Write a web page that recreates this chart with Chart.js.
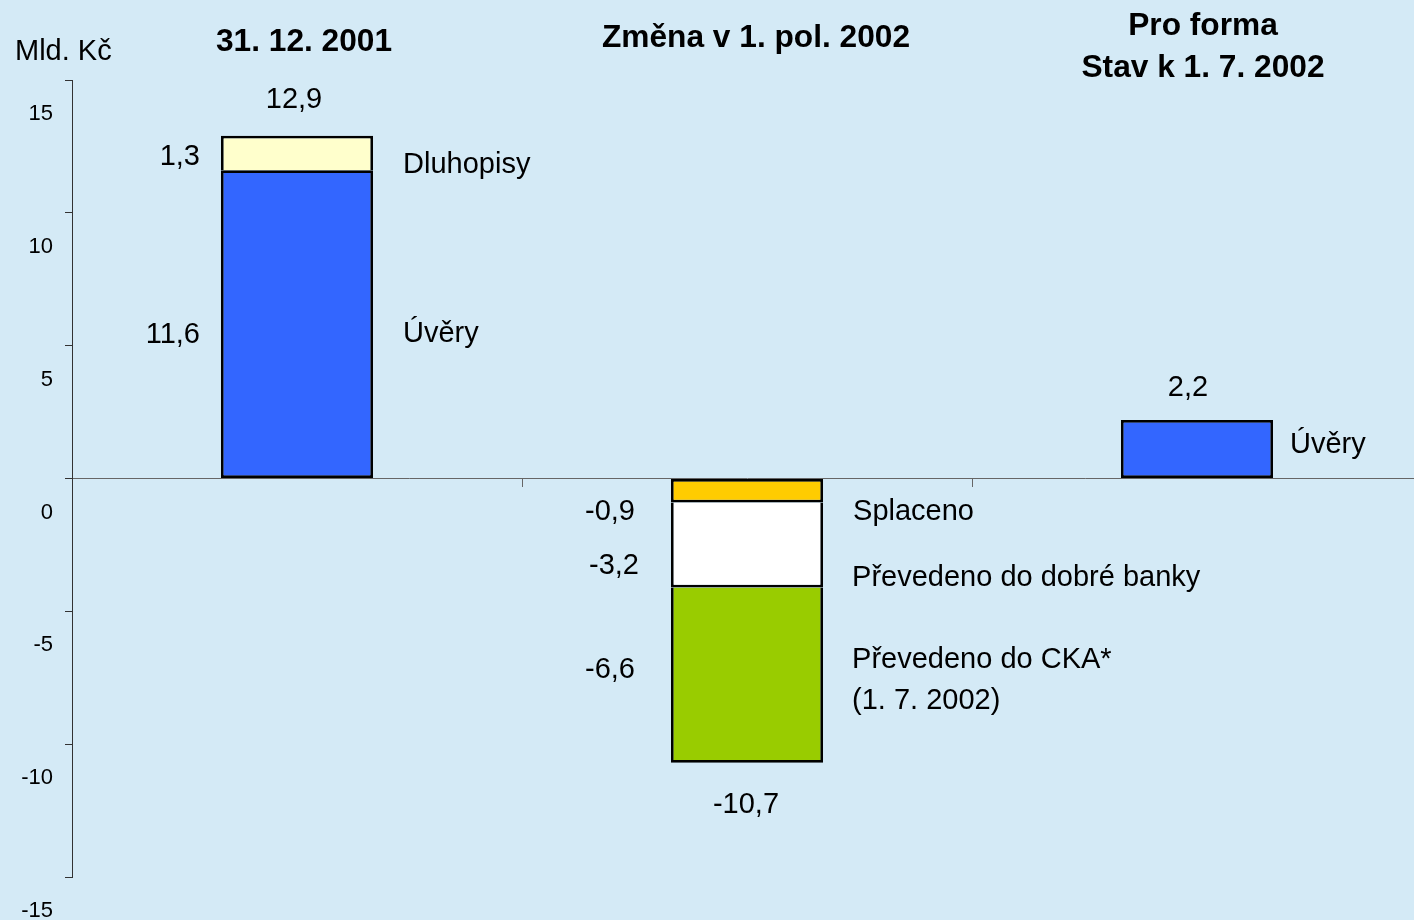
<!DOCTYPE html>
<html>
<head>
<meta charset="utf-8">
<script src="https://cdn.jsdelivr.net/npm/chart.js@4"></script>
<style>
  html, body { margin: 0; padding: 0; overflow: hidden; background: #d4eaf6; }
  #chart { display: block; }
</style>
</head>
<body>
<canvas id="chart" width="1422" height="920"></canvas>
<script>
// Column headings and stacked segments, Mld. Kč
var categories = [["31. 12. 2001"], ["Změna v 1. pol. 2002"], ["Pro forma", "Stav k 1. 7. 2002"]];
var uvery      = [11.6, null, 2.2];
var dluhopisy  = [1.3, null, null];
var splaceno   = [null, -0.9, null];
var dobraBanka = [null, -3.2, null];
var cka        = [null, -6.6, null];
var segmentNames = ["Úvěry", "Dluhopisy", "Splaceno", "Převedeno do dobré banky", ["Převedeno do CKA*", "(1. 7. 2002)"]];
var yMin = -15, yMax = 15, yStep = 5;
var unitLabel = "Mld. Kč";

var FONT = '"Liberation Sans", Arial, sans-serif';
Chart.defaults.font.family = FONT;

// text placement in pixels, relative to the bar segment ("dataset-category")
var valueOffset = { "0-0": [-21, 19], "1-0": [-21, 12], "2-1": [-36, 29], "3-1": [-32, 29], "4-1": [-36, 3] };
var nameOffset  = { "0-0": [30, 18], "0-2": [17, 4], "1-0": [30, 20], "2-1": [30, 29], "3-1": [29, 41], "4-1": [29, -7] };
var totalOffset = [[-3, -28], [-1, 50], [-9, -24]];
var headingOffset = [[7, 51], [9, 47], [6, 35]];

var EDGE = 2.75;

function fmt(v) {
  return v.toFixed(1).replace(".", ",");
}

// every segment draws its outward edge; the edge towards zero only if nothing sits there,
// so the line between two segments is a single stroke
function segmentBorder(ctx) {
  var all = ctx.chart.data.datasets, i = ctx.dataIndex, d = ctx.datasetIndex;
  var v = all[d].data[i];
  if (v == null) return EDGE;
  var below = false;
  for (var k = 0; k < d; k++) {
    var w = all[k].data[i];
    if (w != null && (w > 0) === (v > 0)) below = true;
  }
  var inner = below ? 0 : EDGE;
  return v > 0 ? { top: EDGE, bottom: inner, left: EDGE, right: EDGE }
               : { top: inner, bottom: EDGE, left: EDGE, right: EDGE };
}

var labelPlugin = {
  id: "segmentLabels",
  afterDatasetsDraw: function (chart) {
    var ctx = chart.ctx, xs = chart.scales.x, ys = chart.scales.y;
    ctx.save();
    ctx.fillStyle = "#000";
    ctx.textBaseline = "alphabetic";
    ctx.font = "29px " + FONT;

    chart.data.datasets.forEach(function (ds, d) {
      var meta = chart.getDatasetMeta(d);
      ds.data.forEach(function (v, i) {
        if (v == null) return;
        var p = meta.data[i].getProps(["x", "y", "base", "width"], true);
        var mid = (p.y + p.base) / 2;
        var key = d + "-" + i;
        if (valueOffset[key]) {
          ctx.textAlign = "right";
          ctx.fillText(fmt(v), p.x - p.width / 2 + valueOffset[key][0], mid + valueOffset[key][1]);
        }
        if (nameOffset[key]) {
          ctx.textAlign = "left";
          [].concat(segmentNames[d]).forEach(function (line, n) {
            ctx.fillText(line, p.x + p.width / 2 + nameOffset[key][0], mid + nameOffset[key][1] + n * 41);
          });
        }
      });
    });

    // stack totals
    categories.forEach(function (c, i) {
      var total = 0;
      chart.data.datasets.forEach(function (ds) { total += ds.data[i] || 0; });
      ctx.textAlign = "center";
      ctx.fillText(fmt(total), xs.getPixelForValue(i) + totalOffset[i][0],
                   ys.getPixelForValue(total) + totalOffset[i][1]);
    });

    ctx.textAlign = "left";
    ctx.fillText(unitLabel, 15, 60);

    // column headings
    ctx.font = "bold 31.7px " + FONT;
    ctx.textAlign = "center";
    categories.forEach(function (lines, i) {
      lines.forEach(function (line, n) {
        ctx.fillText(line, xs.getPixelForValue(i) + headingOffset[i][0], headingOffset[i][1] + n * 42);
      });
    });
    ctx.restore();
  }
};

new Chart("chart", {
  type: "bar",
  data: {
    labels: categories,
    datasets: [
      { label: "Úvěry", data: uvery, backgroundColor: "#3366ff" },
      { label: "Dluhopisy", data: dluhopisy, backgroundColor: "#ffffcc" },
      { label: "Splaceno", data: splaceno, backgroundColor: "#ffcc00" },
      { label: "Převedeno do dobré banky", data: dobraBanka, backgroundColor: "#ffffff" },
      { label: "Převedeno do CKA*", data: cka, backgroundColor: "#99cc00" }
    ]
  },
  options: {
    responsive: false,
    animation: false,
    layout: { padding: { top: 80, bottom: 43, left: 0, right: 0 } },
    datasets: {
      bar: {
        borderColor: "#000",
        borderWidth: segmentBorder,
        borderSkipped: false,
        inflateAmount: 0,
        barPercentage: 0.338,
        categoryPercentage: 1
      }
    },
    plugins: {
      legend: { display: false },
      tooltip: { enabled: false }
    },
    scales: {
      x: {
        stacked: true,
        position: { y: 0 },
        ticks: { display: false },
        grid: { drawOnChartArea: false, tickLength: 8, color: "#666", offset: true },
        border: { color: "#666", width: 1 },
        afterFit: function (s) { s.height = 0; }
      },
      y: {
        stacked: true,
        min: yMin,
        max: yMax,
        ticks: {
          stepSize: yStep,
          color: "#000",
          font: { size: 22 },
          padding: 12,
          labelOffset: 34,
          callback: function (v) { return String(v); }
        },
        grid: { drawOnChartArea: false, tickLength: 7, color: "#333" },
        border: { color: "#333", width: 1 },
        afterFit: function (s) { s.width = 72; }
      }
    }
  },
  plugins: [labelPlugin]
});
</script>
</body>
</html>
